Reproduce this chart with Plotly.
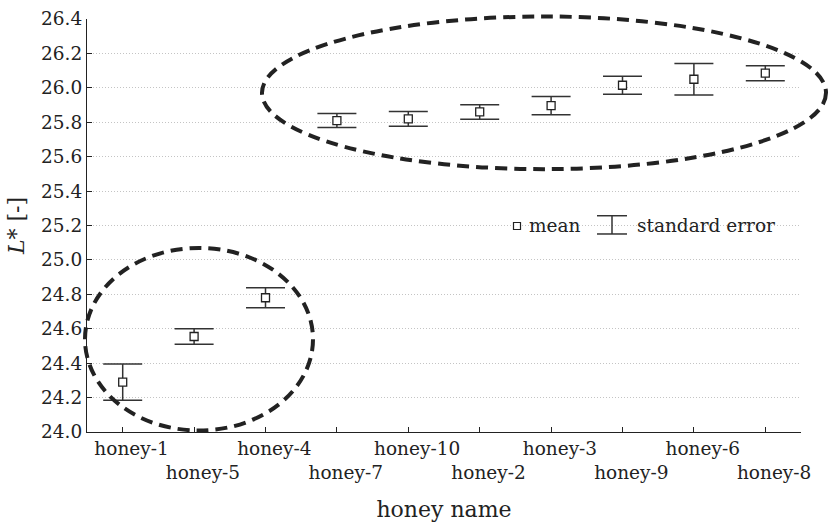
import plotly.graph_objects as go

# ---- data ----
honey_names = ["honey-1", "honey-5", "honey-4", "honey-7", "honey-10",
               "honey-2", "honey-3", "honey-9", "honey-6", "honey-8"]
mean_L = [24.29, 24.555, 24.78, 25.81, 25.82, 25.86, 25.897, 26.015, 26.05, 26.085]
se_L = [0.105, 0.045, 0.058, 0.041, 0.043, 0.042, 0.053, 0.052, 0.092, 0.044]
y_ticks = [24.0, 24.2, 24.4, 24.6, 24.8, 25.0, 25.2, 25.4, 25.6, 25.8, 26.0, 26.2, 26.4]
grid_vals = y_ticks[1:-1]

FONT = "DejaVu Serif"
FS = 18.5
INK = "#222222"

x_pos = list(range(len(honey_names)))
nb = "\u00a0\u00a0\u00a0"
tick_text = [(nb + n) if i % 2 == 0 else ("<br>" + nb + n) for i, n in enumerate(honey_names)]

fig = go.Figure()
fig.add_trace(go.Scatter(
    x=x_pos, y=mean_L, mode="markers",
    marker=dict(symbol="square", size=8, color="white",
                line=dict(color=INK, width=1.3)),
    error_y=dict(type="data", array=se_L, visible=True,
                 color="#333333", thickness=1.5, width=19.5),
    showlegend=False,
))

# plot-area pixel geometry helpers (for layout-only decorations)
L, R, T, B = 87, 801, 18.5, 432.5
def px(xp):
    return (xp - L) / (R - L)
def py(yp):
    return (B - yp) / (B - T)

shapes = []
dash_line = dict(color=INK, width=4, dash="12px,7px")
# upper ellipse
shapes.append(dict(type="circle", xref="paper", yref="paper",
                   x0=px(262), x1=px(826), y0=py(169), y1=py(16),
                   line=dash_line, layer="above"))
# lower ellipse
shapes.append(dict(type="circle", xref="paper", yref="paper",
                   x0=px(85), x1=px(313), y0=py(431), y1=py(248),
                   line=dash_line, layer="above"))
# legend glyphs
shapes.append(dict(type="rect", xref="paper", yref="paper",
                   x0=px(513.5), x1=px(520.5), y0=py(229.5), y1=py(222.5),
                   line=dict(color=INK, width=1.2), fillcolor="white"))
for yy in (215.7, 234):
    shapes.append(dict(type="line", xref="paper", yref="paper",
                       x0=px(597), x1=px(627), y0=py(yy), y1=py(yy),
                       line=dict(color="#333333", width=1.5)))
shapes.append(dict(type="line", xref="paper", yref="paper",
                   x0=px(612), x1=px(612), y0=py(215.7), y1=py(234),
                   line=dict(color="#333333", width=1.5)))

annotations = [
    dict(text="mean", xref="paper", yref="paper", x=px(527), y=py(225),
         xanchor="left", yanchor="middle", showarrow=False,
         font=dict(family=FONT, size=FS, color=INK)),
    dict(text="standard error", xref="paper", yref="paper", x=px(635), y=py(225),
         xanchor="left", yanchor="middle", showarrow=False,
         font=dict(family=FONT, size=FS, color=INK)),
]

fig.update_layout(
    width=828, height=522,
    margin=dict(l=L, r=828 - R, t=T, b=522 - B, autoexpand=False),
    paper_bgcolor="white", plot_bgcolor="white",
    font=dict(family=FONT, size=FS, color=INK),
    shapes=shapes, annotations=annotations,
    xaxis=dict(
        range=[-0.5, 9.5], tickvals=x_pos, ticktext=tick_text, tickangle=0,
        showline=True, linecolor=INK, linewidth=1.2,
        ticks="inside", ticklen=5, tickcolor=INK,
        showgrid=False, zeroline=False, automargin=False,
        title=dict(text="honey name", standoff=20),
    ),
    yaxis=dict(
        range=[24.0, 26.4], tickvals=y_ticks,
        ticktext=[f"{v:.1f}" for v in y_ticks],
        showline=True, linecolor=INK, linewidth=1.2,
        ticks="inside", ticklen=5, tickcolor=INK,
        showgrid=False, zeroline=False, automargin=False,
        minor=dict(tickvals=grid_vals, showgrid=True, gridcolor="#c4c4c4",
                   griddash="1px,2px", gridwidth=1, ticks=""),
        title=dict(text="<i>L</i>* [-]", standoff=10),
    ),
)

fig.write_html("out.html")
